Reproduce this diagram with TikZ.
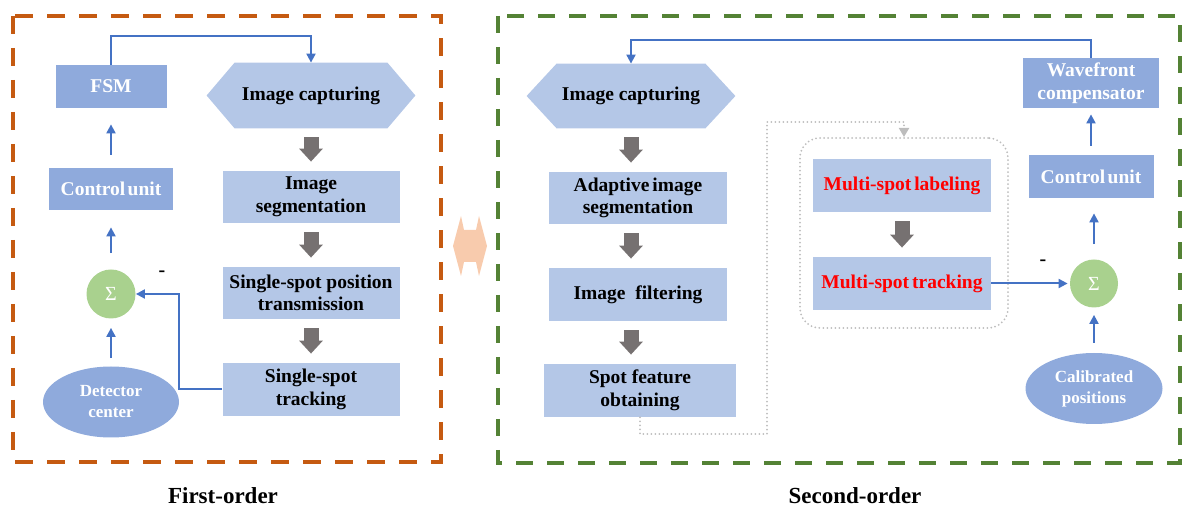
\documentclass[tikz,border=0pt]{standalone}
\usepackage{fontspec}
\setmainfont{Liberation Serif}
\usetikzlibrary{arrows.meta,backgrounds,calc,shapes.geometric}
\definecolor{lb}{HTML}{B4C7E7}
\definecolor{db}{HTML}{8FAADC}
\definecolor{gc}{HTML}{A9D18E}
\definecolor{ga}{HTML}{767171}
\definecolor{bl}{HTML}{4472C4}
\definecolor{orf}{HTML}{C55A11}
\definecolor{grf}{HTML}{548235}
\definecolor{pch}{HTML}{F8CBAD}
\definecolor{dg}{HTML}{BDBDBD}
\begin{document}
\begin{tikzpicture}[x=0.5pt,y=-0.5pt,
 every node/.style={font=\fontsize{9.75pt}{11.3pt}\selectfont\bfseries, align=center, inner sep=0pt},
 lbox/.style={fill=lb, text=black},
 dbox/.style={fill=db, text=white},
 hexn/.style={text=black},
 ell/.style={ellipse, fill=db, text=white, font=\fontsize{8.5pt}{10.5pt}\selectfont\bfseries},
 sumc/.style={circle, fill=gc, text=white, font=\fontsize{10pt}{11pt}\selectfont\mdseries},
 grayarr/.style={draw=ga, line width=7.5pt, shorten <=4.5pt, shorten >=4.5pt, -{Triangle[width=11.5pt,length=6.5pt]}},
 bluearr/.style={draw=bl, line width=1pt, -{Triangle[width=4.5pt,length=4.5pt]}},
 dotc/.style={draw=dg, line width=1pt, line cap=round, dash pattern=on 0pt off 2pt},
 grpbox/.style={draw=dg, line width=1pt, line cap=round, dash pattern=on 0pt off 2pt, rounded corners=10pt},
 ttl/.style={font=\fontsize{11.5pt}{13pt}\selectfont\bfseries},
 minus/.style={font=\fontsize{10pt}{12pt}\selectfont\bfseries}
]
\useasboundingbox (0,0) rectangle (1184,507);

% frames
\draw[orf, line width=1.75pt, dash pattern=on 9pt off 7pt] (13,16) rectangle (441,462);
\draw[grf, line width=1.75pt, dash pattern=on 8.5pt off 7pt] (498,16) rectangle (1180,463);

% central double arrow
\fill[pch] (453,246) -- (461,216) -- (464,230) -- (476,230) -- (479,216) -- (487,246)
  -- (479,276) -- (476,262) -- (464,262) -- (461,276) -- cycle;

% ---------- first order ----------
\node[dbox, minimum width=55.5pt, minimum height=21.5pt] (fsm) at (111,86.5) {FSM};
\node[dbox, minimum width=62pt, minimum height=21pt] (ctrl1) at (111,189) {Control\hspace{0.12em}unit};
\node[sumc, minimum size=24.5pt] (sum1) at (111,294) {Σ};
\node[ell, minimum width=68pt, minimum height=35.5pt] (det) at (111,402) {Detector\\center};
\node[hexn, minimum width=104pt, minimum height=32.5pt] (cap1) at (311,95.5) {Image capturing};
\node[lbox, minimum width=88.5pt, minimum height=26pt] (seg1) at (311,197) {Image\\segmentation};
\node[lbox, minimum width=88.5pt, minimum height=26pt] (pos1) at (311,293) {Single-spot position\\transmission};
\node[lbox, minimum width=88.5pt, minimum height=26.5pt] (trk1) at (311,389.5) {Single-spot\\tracking};
\node[minus] (m1) at (162,274) {-};

% ---------- second order ----------
\node[grpbox, minimum width=104pt, minimum height=95pt] (grp) at (904,233) {};
\node[hexn, minimum width=104pt, minimum height=32pt] (cap2) at (631,96) {Image capturing};
\node[lbox, minimum width=89pt, minimum height=26pt] (seg2) at (638,198) {Adaptive\hspace{0.15em}image\\segmentation};
\node[lbox, minimum width=89pt, minimum height=26.5pt] (filt) at (638,294.5) {Image~~filtering};
\node[lbox, minimum width=96pt, minimum height=26.5pt] (spot) at (640,390.5) {Spot feature\\obtaining};
\node[lbox, text=red, minimum width=89pt, minimum height=26.5pt] (lab) at (902,185.5) {Multi-spot\hspace{0.15em}labeling};
\node[lbox, text=red, minimum width=89pt, minimum height=26.5pt] (mtrk) at (902,283.5) {Multi-spot\hspace{0.15em}tracking};
\node[sumc, minimum size=24pt] (sum2) at (1094,283.5) {Σ};
\node[dbox, minimum width=62.5pt, minimum height=21.5pt] (ctrl2) at (1091,176.5) {Control\hspace{0.12em}unit};
\node[dbox, minimum width=68pt, minimum height=25pt] (wave) at (1091,83) {Wavefront\\compensator};
\node[ell, minimum width=68.5pt, minimum height=35.5pt] (cal) at (1094,388.5) {Calibrated\\positions};
\node[minus] (m2) at (1043,263) {-};

% titles
\node[ttl] (t1) at (223,496) {First-order};
\node[ttl] (t2) at (855,496) {Second-order};

% hexagon backgrounds
\begin{scope}[on background layer]
\foreach \n/\o in {cap1/14pt,cap2/15pt}
  \fill[lb] (\n.west) -- ([xshift=\o]\n.north west) -- ([xshift=-\o]\n.north east) -- (\n.east)
    -- ([xshift=-\o]\n.south east) -- ([xshift=\o]\n.south west) -- cycle;
\end{scope}

% gray arrows
\draw[grayarr] (cap1.south) -- (seg1.north);
\draw[grayarr] (seg1.south) -- (pos1.north);
\draw[grayarr] (pos1.south) -- (trk1.north);
\draw[grayarr] (cap2.south) -- (cap2.south |- seg2.north);
\draw[grayarr] (cap2.south |- seg2.south) -- (cap2.south |- filt.north);
\draw[grayarr] (cap2.south |- filt.south) -- (cap2.south |- spot.north);
\draw[grayarr] (lab.south) -- (mtrk.north);

% blue arrows, first order
\draw[bluearr] (fsm.north) -- ++(0,-29) -| (cap1.north);
\draw[bluearr, shorten <=6.5pt, shorten >=8pt] (ctrl1.north) -- (fsm.south);
\draw[bluearr, shorten <=8pt, shorten >=8.5pt] (sum1.north) -- (ctrl1.south);
\draw[bluearr, shorten <=4pt, shorten >=4.5pt] (det.north) -- (sum1.south);
\draw[bluearr] (trk1.west) -- ++(-43,0) |- (sum1.east);

% blue arrows, second order
\draw[bluearr] (wave.north) -- ++(0,-18) -| (cap2.north);
\draw[bluearr, shorten <=4.5pt, shorten >=3pt] (ctrl2.north) -- (wave.south);
\draw[bluearr, shorten <=7.5pt, shorten >=7.5pt] (sum2.north) -- (sum2.north |- ctrl2.south);
\draw[bluearr, shorten <=5pt, shorten >=3.5pt] (cal.north) -- (sum2.south);
\draw[bluearr, shorten >=1pt] (mtrk.east) -- (sum2.west);

% dotted connector
\coordinate (d1) at (767,434);
\coordinate (d2) at (767,122);
\draw[dotc, -{Triangle[width=5pt,length=4.5pt]}] (spot.south) |- (d1) -- (d2) -| (grp.north);
\end{tikzpicture}
\end{document}
